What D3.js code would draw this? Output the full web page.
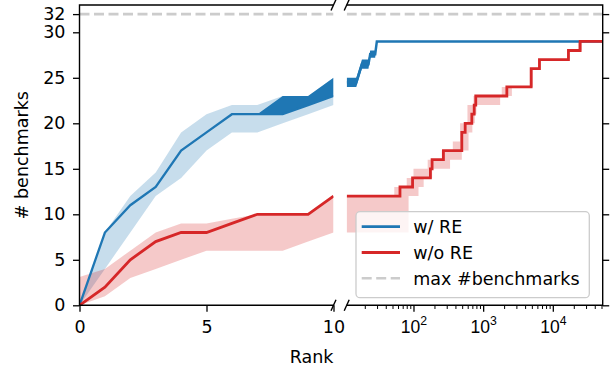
<!DOCTYPE html>
<html><head><meta charset="utf-8">
<script src="https://cdn.jsdelivr.net/npm/d3@7"></script>
<style>
body{margin:0;background:#fff;}
svg{display:block;font-family:"DejaVu Sans",sans-serif;}
</style></head><body>
<svg id="c" width="611" height="368"></svg>
<script>
// ---------- data ----------
const leftRanks = [0,1,2,3,4,5,6,7,8,9,10];
const blueMean  = [0,8,11,13,17,19,21,21,21,22,23];
const blueHi    = [0,8,12,14.6,19,21,22,22,23,23,25];
const blueLo    = [0,4,8,12,14,17,19,19,20,21,22];
const blueDarkX  = [7,8,9,10];
const blueDarkHi = [21,23,23,25];
const blueDarkLo = [21,21,22,23];
const redMean = [0,2,5,7,8,8,9,10,10,10,12];
const redHi   = [3.1,4,6,8,9,9,9.5,10,10,10,12];
const redLo   = [0,1,3,4,5,6,6,6,6,7,8];

// right (log) panel
const blueRX    = [11,15.1,18.2,22.6,23.9,28.2,29.8];
const blueRHi   = [25,25,27,27,28,28,29];
const blueRLo   = [24,24,26,26,27.2,27.2,29];
const blueRLineX = [11,15.1,18.2,22.6,23.9,28.2,29.8,52000];
const blueRLineY = [24.5,24.5,26.5,26.5,27.6,27.6,29,29];
const redStepX = [11,64,97,175,185,269,494,552,688,744,783,2188,4887,6430,16760,24660,52000];
const redStepY = [12,13,14,15,16,17,19,20,21,22,23,24,26,27,28,29,29];
const redHiX = [11,53,80,100,160,255,367,467,595,726,1850,4700,6200,16000,23000,52000];
const redHiY = [12,13,14,15,16,17,18,20,22,23,24,26,27,28,29,29];
const redLoX = [11,85,118,140,185,335,494,617,700,760,800,1754,2585,5200,6700,17500,26000,52000];
const redLoY = [8,12,13,14,15,16,17,19,20,21,22,23,24,26,27,28,29,29];

const maxBench = 32;
const yTicks = [0,5,10,15,20,25,30,32];
const leftXTicks = [0,5,10];
const rightMajor = [100,1000,10000];
const rightMajorLabels = [["10","2"],["10","3"],["10","4"]];
const rightMinor = [20,30,40,50,60,70,80,90,200,300,400,500,600,700,800,900,2000,3000,4000,5000,6000,7000,8000,9000,20000,30000,40000,50000];
const legendLabels = ["w/ RE","w/o RE","max #benchmarks"];

// ---------- style ----------
const BLUE = "#1f77b4", RED = "#d62728", GRAY = "#cccccc";
const FS = 17.5;
const svg = d3.select("#c");
const y = d3.scaleLinear().domain([0,33]).range([305.3,5]);
const xL = d3.scaleLinear().domain([0,10]).range([79.5,333.5]);
const xR = d3.scaleLog().domain([11,52000]).range([346.7,602.7]);

const defs = svg.append("defs");
defs.append("clipPath").attr("id","clipL").append("rect")
  .attr("x",xL.range()[0]).attr("y",y.range()[1]).attr("width",xL.range()[1]-xL.range()[0]).attr("height",y.range()[0]-y.range()[1]);
defs.append("clipPath").attr("id","clipR").append("rect")
  .attr("x",xR.range()[0]).attr("y",y.range()[1]).attr("width",xR.range()[1]-xR.range()[0]).attr("height",y.range()[0]-y.range()[1]);

const gL = svg.append("g").attr("clip-path","url(#clipL)");
const gR = svg.append("g").attr("clip-path","url(#clipR)");

const idx = leftRanks.map((d,i)=>i);
const areaL = (hi,lo)=>d3.area().x(i=>xL(leftRanks[i])).y0(i=>y(lo[i])).y1(i=>y(hi[i]));
const lineL = (v)=>d3.line().x(i=>xL(leftRanks[i])).y(i=>y(v[i]));

// left bands
gL.append("path").attr("d",areaL(blueHi,blueLo)(idx)).attr("fill",BLUE).attr("fill-opacity",0.25);
gL.append("path").attr("d",areaL(redHi,redLo)(idx)).attr("fill",RED).attr("fill-opacity",0.25);
// dark blue region
const dIdx = blueDarkX.map((d,i)=>i);
gL.append("path").attr("d",d3.area().x(i=>xL(blueDarkX[i])).y0(i=>y(blueDarkLo[i])).y1(i=>y(blueDarkHi[i]))(dIdx)).attr("fill",BLUE);
gL.append("path").attr("d",lineL(blueMean)(idx)).attr("fill","none").attr("stroke",BLUE).attr("stroke-width",2.3);
gL.append("path").attr("d",lineL(redMean)(idx)).attr("fill","none").attr("stroke",RED).attr("stroke-width",2.8);

// right panel
const step = (xs,ys)=>d3.line().curve(d3.curveStepAfter).x(i=>xR(xs[i])).y(i=>y(ys[i]))(xs.map((d,i)=>i));
function stepPts(xs,ys){const p=[];for(let i=0;i<xs.length;i++){if(i>0)p.push([xs[i],ys[i-1]]);p.push([xs[i],ys[i]]);}return p;}
const hiPts = stepPts(redHiX,redHiY), loPts = stepPts(redLoX,redLoY);
const bandPath = "M"+hiPts.map(p=>xR(p[0])+","+y(p[1])).join("L")+"L"+loPts.slice().reverse().map(p=>xR(p[0])+","+y(p[1])).join("L")+"Z";
gR.append("path").attr("d",bandPath).attr("fill",RED).attr("fill-opacity",0.25);
const bIdx = blueRX.map((d,i)=>i);
gR.append("path").attr("d",d3.area().x(i=>xR(blueRX[i])).y0(i=>y(blueRLo[i])).y1(i=>y(blueRHi[i]))(bIdx)).attr("fill",BLUE);
gR.append("path").attr("d",d3.line().x(i=>xR(blueRLineX[i])).y(i=>y(blueRLineY[i]))(blueRLineX.map((d,i)=>i))).attr("fill","none").attr("stroke",BLUE).attr("stroke-width",2.5);
gR.append("path").attr("d",step(redStepX,redStepY)).attr("fill","none").attr("stroke",RED).attr("stroke-width",2.8);

// max line
[[xL,gL],[xR,gR]].forEach(([sc,g])=>{
  g.append("line").attr("x1",sc.range()[0]).attr("x2",sc.range()[1]).attr("y1",y(maxBench)).attr("y2",y(maxBench))
   .attr("stroke",GRAY).attr("stroke-width",2.6).attr("stroke-dasharray","10,4.5");
});

// ---------- axes ----------
function styleAxis(g){g.select(".domain").remove();g.selectAll("line").attr("stroke","#000").attr("stroke-width",1.3);
  g.selectAll("text").attr("font-size",FS).attr("fill","#000").attr("font-family","DejaVu Sans");}
const ayL = svg.append("g").attr("transform",`translate(${xL.range()[0]},0)`)
  .call(d3.axisLeft(y).tickValues(yTicks).tickSize(6.5).tickPadding(7.5).tickSizeOuter(0));
styleAxis(ayL);
const axL = svg.append("g").attr("transform",`translate(0,${y(0)})`)
  .call(d3.axisBottom(xL).tickValues(leftXTicks).tickSize(6.5).tickPadding(8.5).tickFormat(d3.format("d")).tickSizeOuter(0));
styleAxis(axL);
const ayR = svg.append("g").attr("transform",`translate(${xR.range()[1]},0)`)
  .call(d3.axisRight(y).tickValues(yTicks).tickSize(6.5).tickFormat("").tickSizeOuter(0));
styleAxis(ayR);
const axR = svg.append("g").attr("transform",`translate(0,${y(0)})`)
  .call(d3.axisBottom(xR).tickValues(rightMajor).tickSize(6.5).tickPadding(8.5).tickFormat("").tickSizeOuter(0));
styleAxis(axR);
axR.selectAll(".tick").each(function(d,i){
  const t = d3.select(this).append("text").attr("y",15).attr("dy","0.71em").attr("text-anchor","middle")
    .attr("font-size",FS).attr("fill","#000");
  t.append("tspan").text(rightMajorLabels[i][0]);
  t.append("tspan").text(rightMajorLabels[i][1]).attr("font-size",FS*0.7).attr("dy","-0.62em");
});
const axRm = svg.append("g").attr("transform",`translate(0,${y(0)})`)
  .call(d3.axisBottom(xR).tickValues(rightMinor).tickSize(3.7).tickFormat("").tickSizeOuter(0));
styleAxis(axRm); axRm.selectAll("line").attr("stroke-width",1);

// spines
const sp = svg.append("g").attr("stroke","#000").attr("stroke-width",1.4).attr("fill","none");
sp.append("path").attr("d",`M${xL.range()[1]},${y.range()[1]}H${xL.range()[0]}V${y.range()[0]}H${xL.range()[1]}`);
sp.append("path").attr("d",`M${xR.range()[0]},${y.range()[1]}H${xR.range()[1]}V${y.range()[0]}H${xR.range()[0]}`);
// break marks
[xL.range()[1], xR.range()[0]].forEach(xx=>{
  [y.range()[1], y.range()[0]].forEach(yy=>{
    sp.append("line").attr("x1",xx-2.5).attr("y1",yy+5.5).attr("x2",xx+2.5).attr("y2",yy-5.5).attr("stroke-width",1.4);
  });
});

// labels
svg.append("text").attr("x",xL.range()[1]).attr("y",362.5).attr("text-anchor","end")
  .attr("font-size",FS).text("Rank");
svg.append("text").attr("transform",`translate(28,${(y.range()[0]+y.range()[1])/2}) rotate(-90)`)
  .attr("text-anchor","middle").attr("font-size",FS).text("# benchmarks");

// legend
const lg = svg.append("g");
lg.append("rect").attr("x",356).attr("y",211.7).attr("width",233.3).attr("height",86).attr("rx",4)
  .attr("fill","#fff").attr("fill-opacity",0.8).attr("stroke","#cccccc").attr("stroke-width",1.3);
const lgStyles = [{c:BLUE,d:null,w:2.8},{c:RED,d:null,w:2.8},{c:GRAY,d:"10,4.5",w:2.6}];
legendLabels.forEach((t,i)=>{
  const yy = 226.7 + i*25.8;
  lg.append("line").attr("x1",361.7).attr("x2",400).attr("y1",yy).attr("y2",yy)
    .attr("stroke",lgStyles[i].c).attr("stroke-width",lgStyles[i].w).attr("stroke-dasharray",lgStyles[i].d);
  lg.append("text").attr("x",413.3).attr("y",yy).attr("dy","0.36em").attr("font-size",FS).text(t);
});
</script></body></html>
